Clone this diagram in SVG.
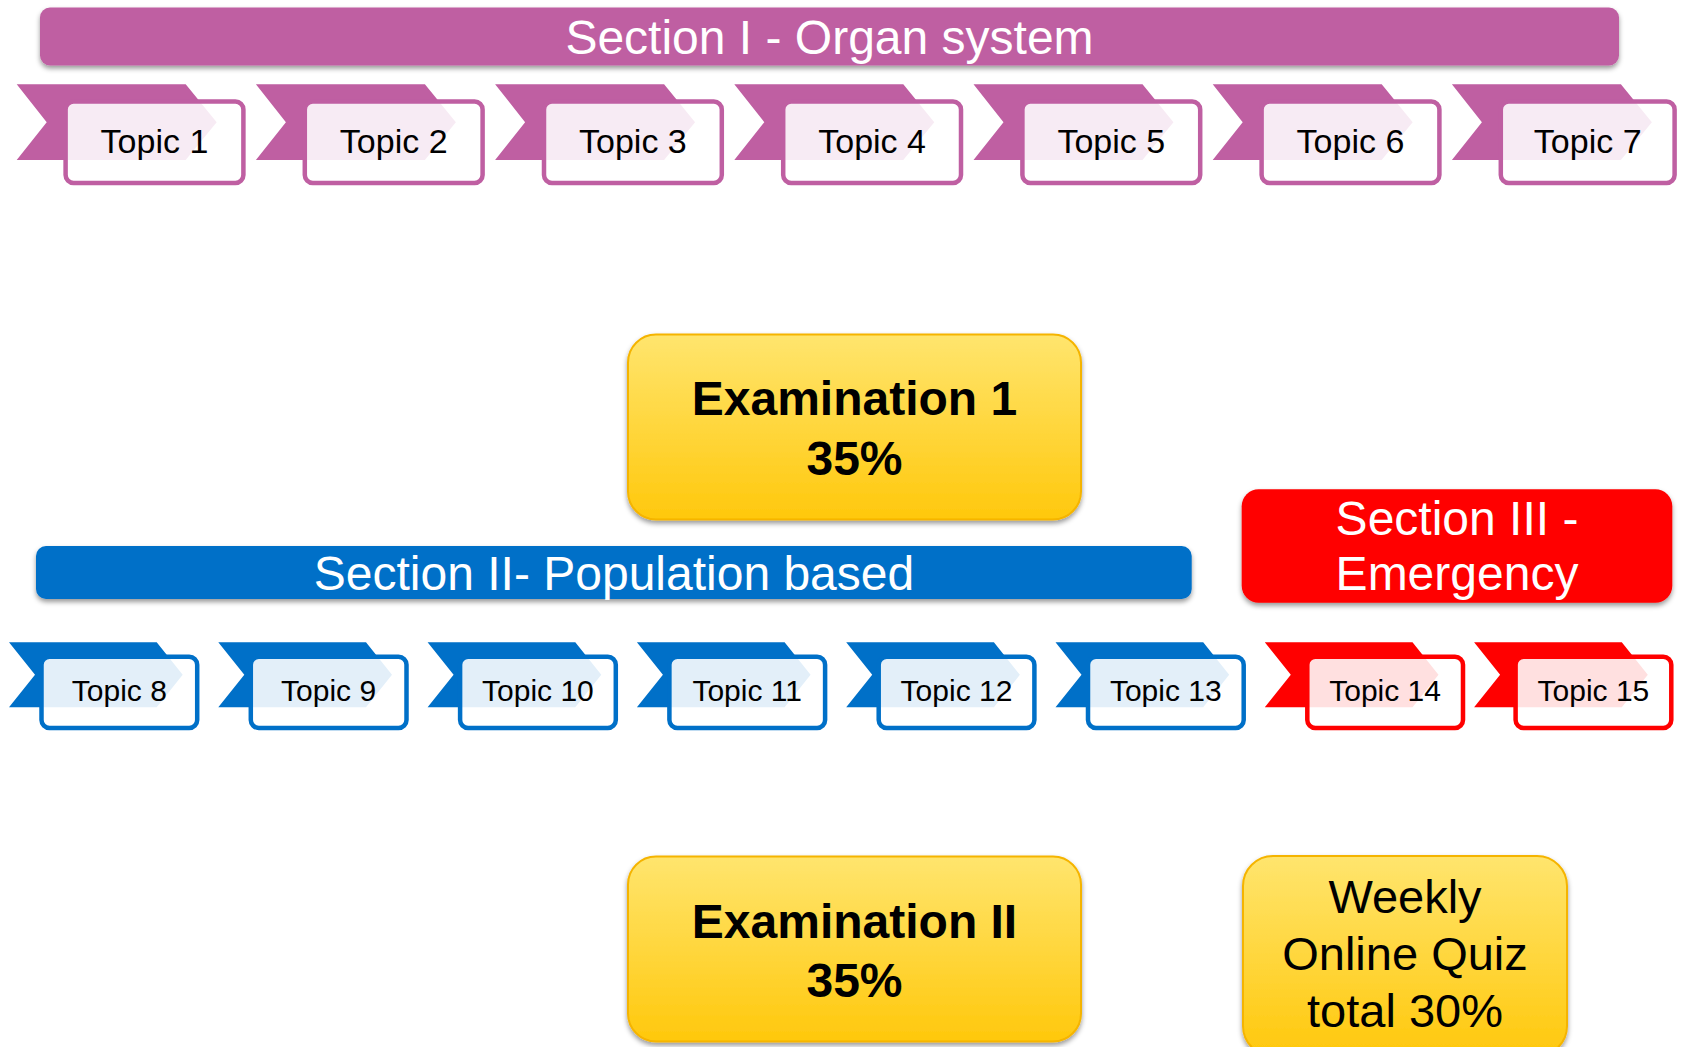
<svg xmlns="http://www.w3.org/2000/svg" width="1683" height="1047" viewBox="0 0 1683 1047">
<style>
text{font-family:"Liberation Sans",Arial,sans-serif;text-anchor:middle}
.hdr{fill:#fff;font-size:48px}
.pch{fill:#BF5FA2}
.bch{fill:#0070C8}
.rch{fill:#FF0000}
.pbox{fill:#fff;fill-opacity:0.88;stroke:#BF5FA2;stroke-width:4.5}
.bbox{fill:#fff;fill-opacity:0.89;stroke:#0070C8;stroke-width:4.5}
.rbox{fill:#fff;fill-opacity:0.88;stroke:#FF0000;stroke-width:4.5}
.pt{font-size:34px;fill:#000}
.bt{font-size:30px;fill:#000}
.exam{fill:url(#gold);stroke:#F5B400;stroke-width:2}
.et{font-size:48px;font-weight:bold;fill:#000}
.qt{font-size:47px;fill:#000}
</style>
<defs>
<linearGradient id="gold" x1="0" y1="0" x2="0" y2="1">
<stop offset="0" stop-color="#FFE56E"/>
<stop offset="1" stop-color="#FFC80C"/>
</linearGradient>
<filter id="sh" x="-5%" y="-20%" width="110%" height="150%">
<feDropShadow dx="0" dy="3" stdDeviation="2.5" flood-color="#000" flood-opacity="0.4"/>
</filter>
</defs>
<rect width="1683" height="1047" fill="#fff"/>

<g id="section1">
<rect x="40" y="7.5" width="1579" height="58" rx="10" fill="#BF5FA2" filter="url(#sh)"/>
<text class="hdr" x="829.5" y="53.5">Section I - Organ system</text>
</g>

<g id="topic1" transform="translate(16.7,0)">
<path class="pch" d="M0,84.3 L169,84.3 L200,122.2 L169,160 L0,160 L30,122.2 Z"/>
<rect class="pbox" x="48.9" y="101.5" width="177.8" height="81.5" rx="8"/>
<text class="pt" x="137.8" y="153">Topic 1</text>
</g>
<g id="topic2" transform="translate(255.9,0)">
<path class="pch" d="M0,84.3 L169,84.3 L200,122.2 L169,160 L0,160 L30,122.2 Z"/>
<rect class="pbox" x="48.9" y="101.5" width="177.8" height="81.5" rx="8"/>
<text class="pt" x="137.8" y="153">Topic 2</text>
</g>
<g id="topic3" transform="translate(495.1,0)">
<path class="pch" d="M0,84.3 L169,84.3 L200,122.2 L169,160 L0,160 L30,122.2 Z"/>
<rect class="pbox" x="48.9" y="101.5" width="177.8" height="81.5" rx="8"/>
<text class="pt" x="137.8" y="153">Topic 3</text>
</g>
<g id="topic4" transform="translate(734.3,0)">
<path class="pch" d="M0,84.3 L169,84.3 L200,122.2 L169,160 L0,160 L30,122.2 Z"/>
<rect class="pbox" x="48.9" y="101.5" width="177.8" height="81.5" rx="8"/>
<text class="pt" x="137.8" y="153">Topic 4</text>
</g>
<g id="topic5" transform="translate(973.5,0)">
<path class="pch" d="M0,84.3 L169,84.3 L200,122.2 L169,160 L0,160 L30,122.2 Z"/>
<rect class="pbox" x="48.9" y="101.5" width="177.8" height="81.5" rx="8"/>
<text class="pt" x="137.8" y="153">Topic 5</text>
</g>
<g id="topic6" transform="translate(1212.7,0)">
<path class="pch" d="M0,84.3 L169,84.3 L200,122.2 L169,160 L0,160 L30,122.2 Z"/>
<rect class="pbox" x="48.9" y="101.5" width="177.8" height="81.5" rx="8"/>
<text class="pt" x="137.8" y="153">Topic 6</text>
</g>
<g id="topic7" transform="translate(1451.9,0)">
<path class="pch" d="M0,84.3 L169,84.3 L200,122.2 L169,160 L0,160 L30,122.2 Z"/>
<rect class="pbox" x="48.9" y="101.5" width="173.8" height="81.5" rx="8"/>
<text class="pt" x="135.8" y="153">Topic 7</text>
</g>

<g id="exam1">
<rect class="exam" x="628" y="334.5" width="453" height="185" rx="28" filter="url(#sh)"/>
<text class="et" x="854.5" y="415">Examination 1</text>
<text class="et" x="854.5" y="475">35%</text>
</g>

<g id="section2">
<rect x="36" y="546" width="1155.7" height="53" rx="10" fill="#0070C8" filter="url(#sh)"/>
<text class="hdr" x="614" y="590">Section II- Population based</text>
</g>

<g id="section3">
<rect x="1241.7" y="489.3" width="430.6" height="113.4" rx="17" fill="#FF0000" filter="url(#sh)"/>
<text class="hdr" x="1457" y="535">Section III -</text>
<text class="hdr" x="1457" y="590">Emergency</text>
</g>

<g id="topic8" transform="translate(9,0)">
<path class="bch" d="M0,642.3 L147.7,642.3 L173.7,674.8 L147.7,707.3 L0,707.3 L26,674.8 Z"/>
<rect class="bbox" x="32.5" y="656.7" width="155.7" height="71.3" rx="8"/>
<text class="bt" x="110.3" y="700.5">Topic 8</text>
</g>
<g id="topic9" transform="translate(218.3,0)">
<path class="bch" d="M0,642.3 L147.7,642.3 L173.7,674.8 L147.7,707.3 L0,707.3 L26,674.8 Z"/>
<rect class="bbox" x="32.5" y="656.7" width="155.7" height="71.3" rx="8"/>
<text class="bt" x="110.3" y="700.5">Topic 9</text>
</g>
<g id="topic10" transform="translate(427.6,0)">
<path class="bch" d="M0,642.3 L147.7,642.3 L173.7,674.8 L147.7,707.3 L0,707.3 L26,674.8 Z"/>
<rect class="bbox" x="32.5" y="656.7" width="155.7" height="71.3" rx="8"/>
<text class="bt" x="110.3" y="700.5">Topic 10</text>
</g>
<g id="topic11" transform="translate(636.9,0)">
<path class="bch" d="M0,642.3 L147.7,642.3 L173.7,674.8 L147.7,707.3 L0,707.3 L26,674.8 Z"/>
<rect class="bbox" x="32.5" y="656.7" width="155.7" height="71.3" rx="8"/>
<text class="bt" x="110.3" y="700.5">Topic 11</text>
</g>
<g id="topic12" transform="translate(846.2,0)">
<path class="bch" d="M0,642.3 L147.7,642.3 L173.7,674.8 L147.7,707.3 L0,707.3 L26,674.8 Z"/>
<rect class="bbox" x="32.5" y="656.7" width="155.7" height="71.3" rx="8"/>
<text class="bt" x="110.3" y="700.5">Topic 12</text>
</g>
<g id="topic13" transform="translate(1055.5,0)">
<path class="bch" d="M0,642.3 L147.7,642.3 L173.7,674.8 L147.7,707.3 L0,707.3 L26,674.8 Z"/>
<rect class="bbox" x="32.5" y="656.7" width="155.7" height="71.3" rx="8"/>
<text class="bt" x="110.3" y="700.5">Topic 13</text>
</g>
<g id="topic14" transform="translate(1264.8,0)">
<path class="rch" d="M0,642.3 L147.7,642.3 L173.7,674.8 L147.7,707.3 L0,707.3 L26,674.8 Z"/>
<rect class="rbox" x="42.5" y="656.7" width="155.7" height="71.3" rx="8"/>
<text class="bt" x="120.3" y="700.5">Topic 14</text>
</g>
<g id="topic15" transform="translate(1474.1,0)">
<path class="rch" d="M0,642.3 L147.7,642.3 L173.7,674.8 L147.7,707.3 L0,707.3 L26,674.8 Z"/>
<rect class="rbox" x="41.5" y="656.7" width="155.7" height="71.3" rx="8"/>
<text class="bt" x="119.3" y="700.5">Topic 15</text>
</g>

<g id="exam2">
<rect class="exam" x="628" y="856.5" width="453" height="185" rx="28" filter="url(#sh)"/>
<text class="et" x="854.5" y="938">Examination II</text>
<text class="et" x="854.5" y="997">35%</text>
</g>

<g id="quiz">
<rect class="exam" x="1243" y="856" width="324" height="200" rx="30" filter="url(#sh)"/>
<text class="qt" x="1405" y="913">Weekly</text>
<text class="qt" x="1405" y="970">Online Quiz</text>
<text class="qt" x="1405" y="1027">total 30%</text>
</g>

<g id="connectors"/>
</svg>
